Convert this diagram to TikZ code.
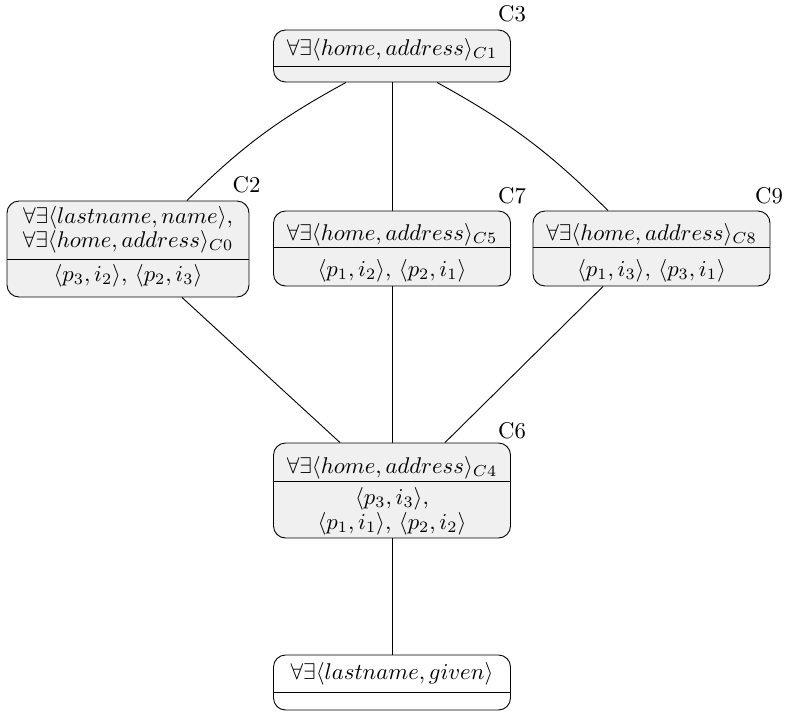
\documentclass[tikz,border=0pt]{standalone}
\usetikzlibrary{calc}
\definecolor{boxfill}{HTML}{F0F0F0}
\newlength\pxu
\setlength\pxu{0.44pt}
\begin{document}
\begin{tikzpicture}[x=1\pxu, y=-1\pxu,
  concept/.style={draw, rounded corners=5.3pt, fill=boxfill, inner sep=0pt,
    minimum width=237\pxu},
  plain/.style={concept, fill=white},
  txt/.style={anchor=base, inner sep=0pt},
  lbl/.style={inner sep=0pt},
  edge/.style={draw, line width=0.4pt}]
\useasboundingbox (0,0) rectangle (786,713);

% concept boxes
\node[concept, minimum height=52\pxu] (c3) at (392,56) {};
\node[concept, minimum height=96\pxu, minimum width=242\pxu] (c2) at (128,249) {};
\node[concept, minimum height=75\pxu] (c7) at (392,248.5) {};
\node[concept, minimum height=75\pxu] (c9) at (651.5,248.5) {};
\node[concept, minimum height=95\pxu] (c6) at (392,490.5) {};
\node[plain, minimum height=55\pxu] (cb) at (392,682.5) {};

% compartment separators
\draw (c3.west |- 0,66) -- (c3.east |- 0,66);
\draw (c2.west |- 0,259) -- (c2.east |- 0,259);
\draw (c7.west |- 0,247) -- (c7.east |- 0,247);
\draw (c9.west |- 0,247) -- (c9.east |- 0,247);
\draw (c6.west |- 0,481) -- (c6.east |- 0,481);
\draw (cb.west |- 0,692) -- (cb.east |- 0,692);

% compartment texts
\node[txt] (t3) at (392,55) {$\forall\exists\langle home, address\rangle_{C1}$};
\node[txt] (t2a) at (128,223.5) {$\forall\exists\langle lastname, name\rangle,$};
\node[txt] (t2b) at (128,247.5) {$\forall\exists\langle home, address\rangle_{C0}$};
\node[txt] (t2c) at (128,281) {$\langle p_3, i_2\rangle,\,\langle p_2, i_3\rangle$};
\node[txt] (t7a) at (392,240) {$\forall\exists\langle home, address\rangle_{C5}$};
\node[txt] (t7b) at (392,276) {$\langle p_1, i_2\rangle,\,\langle p_2, i_1\rangle$};
\node[txt] (t9a) at (651.5,240) {$\forall\exists\langle home, address\rangle_{C8}$};
\node[txt] (t9b) at (651.5,276) {$\langle p_1, i_3\rangle,\,\langle p_3, i_1\rangle$};
\node[txt] (t6a) at (392,473.5) {$\forall\exists\langle home, address\rangle_{C4}$};
\node[txt] (t6b) at (392,504) {$\langle p_3, i_3\rangle,$};
\node[txt] (t6c) at (392,529) {$\langle p_1, i_1\rangle,\,\langle p_2, i_2\rangle$};
\node[txt] (tb) at (392,679) {$\forall\exists\langle lastname, given\rangle$};

% concept labels
\node[lbl] (l3) at (512,14) {C3};
\node[lbl] (l2) at (246.5,185) {C2};
\node[lbl] (l7) at (512,195.5) {C7};
\node[lbl] (l9) at (769,195.5) {C9};
\node[lbl] (l6) at (512,431) {C6};

% lattice edges
\draw[edge] ($(c3.south)+(-46,0)$) to[bend right=8] ($(c2.north)+(59,0)$);
\draw[edge] (c3.south) -- (c7.north);
\draw[edge] ($(c3.south)+(45,0)$) to[bend left=8] ($(c9.north)+(-43.5,0)$);
\draw[edge] ($(c2.south)+(54,0)$) -- ($(c6.north)+(-52,0)$);
\draw[edge] (c7.south) -- (c6.north);
\draw[edge] ($(c9.south)+(-48.5,0)$) -- ($(c6.north)+(53,0)$);
\draw[edge] (c6.south) -- (cb.north);
\end{tikzpicture}
\end{document}
